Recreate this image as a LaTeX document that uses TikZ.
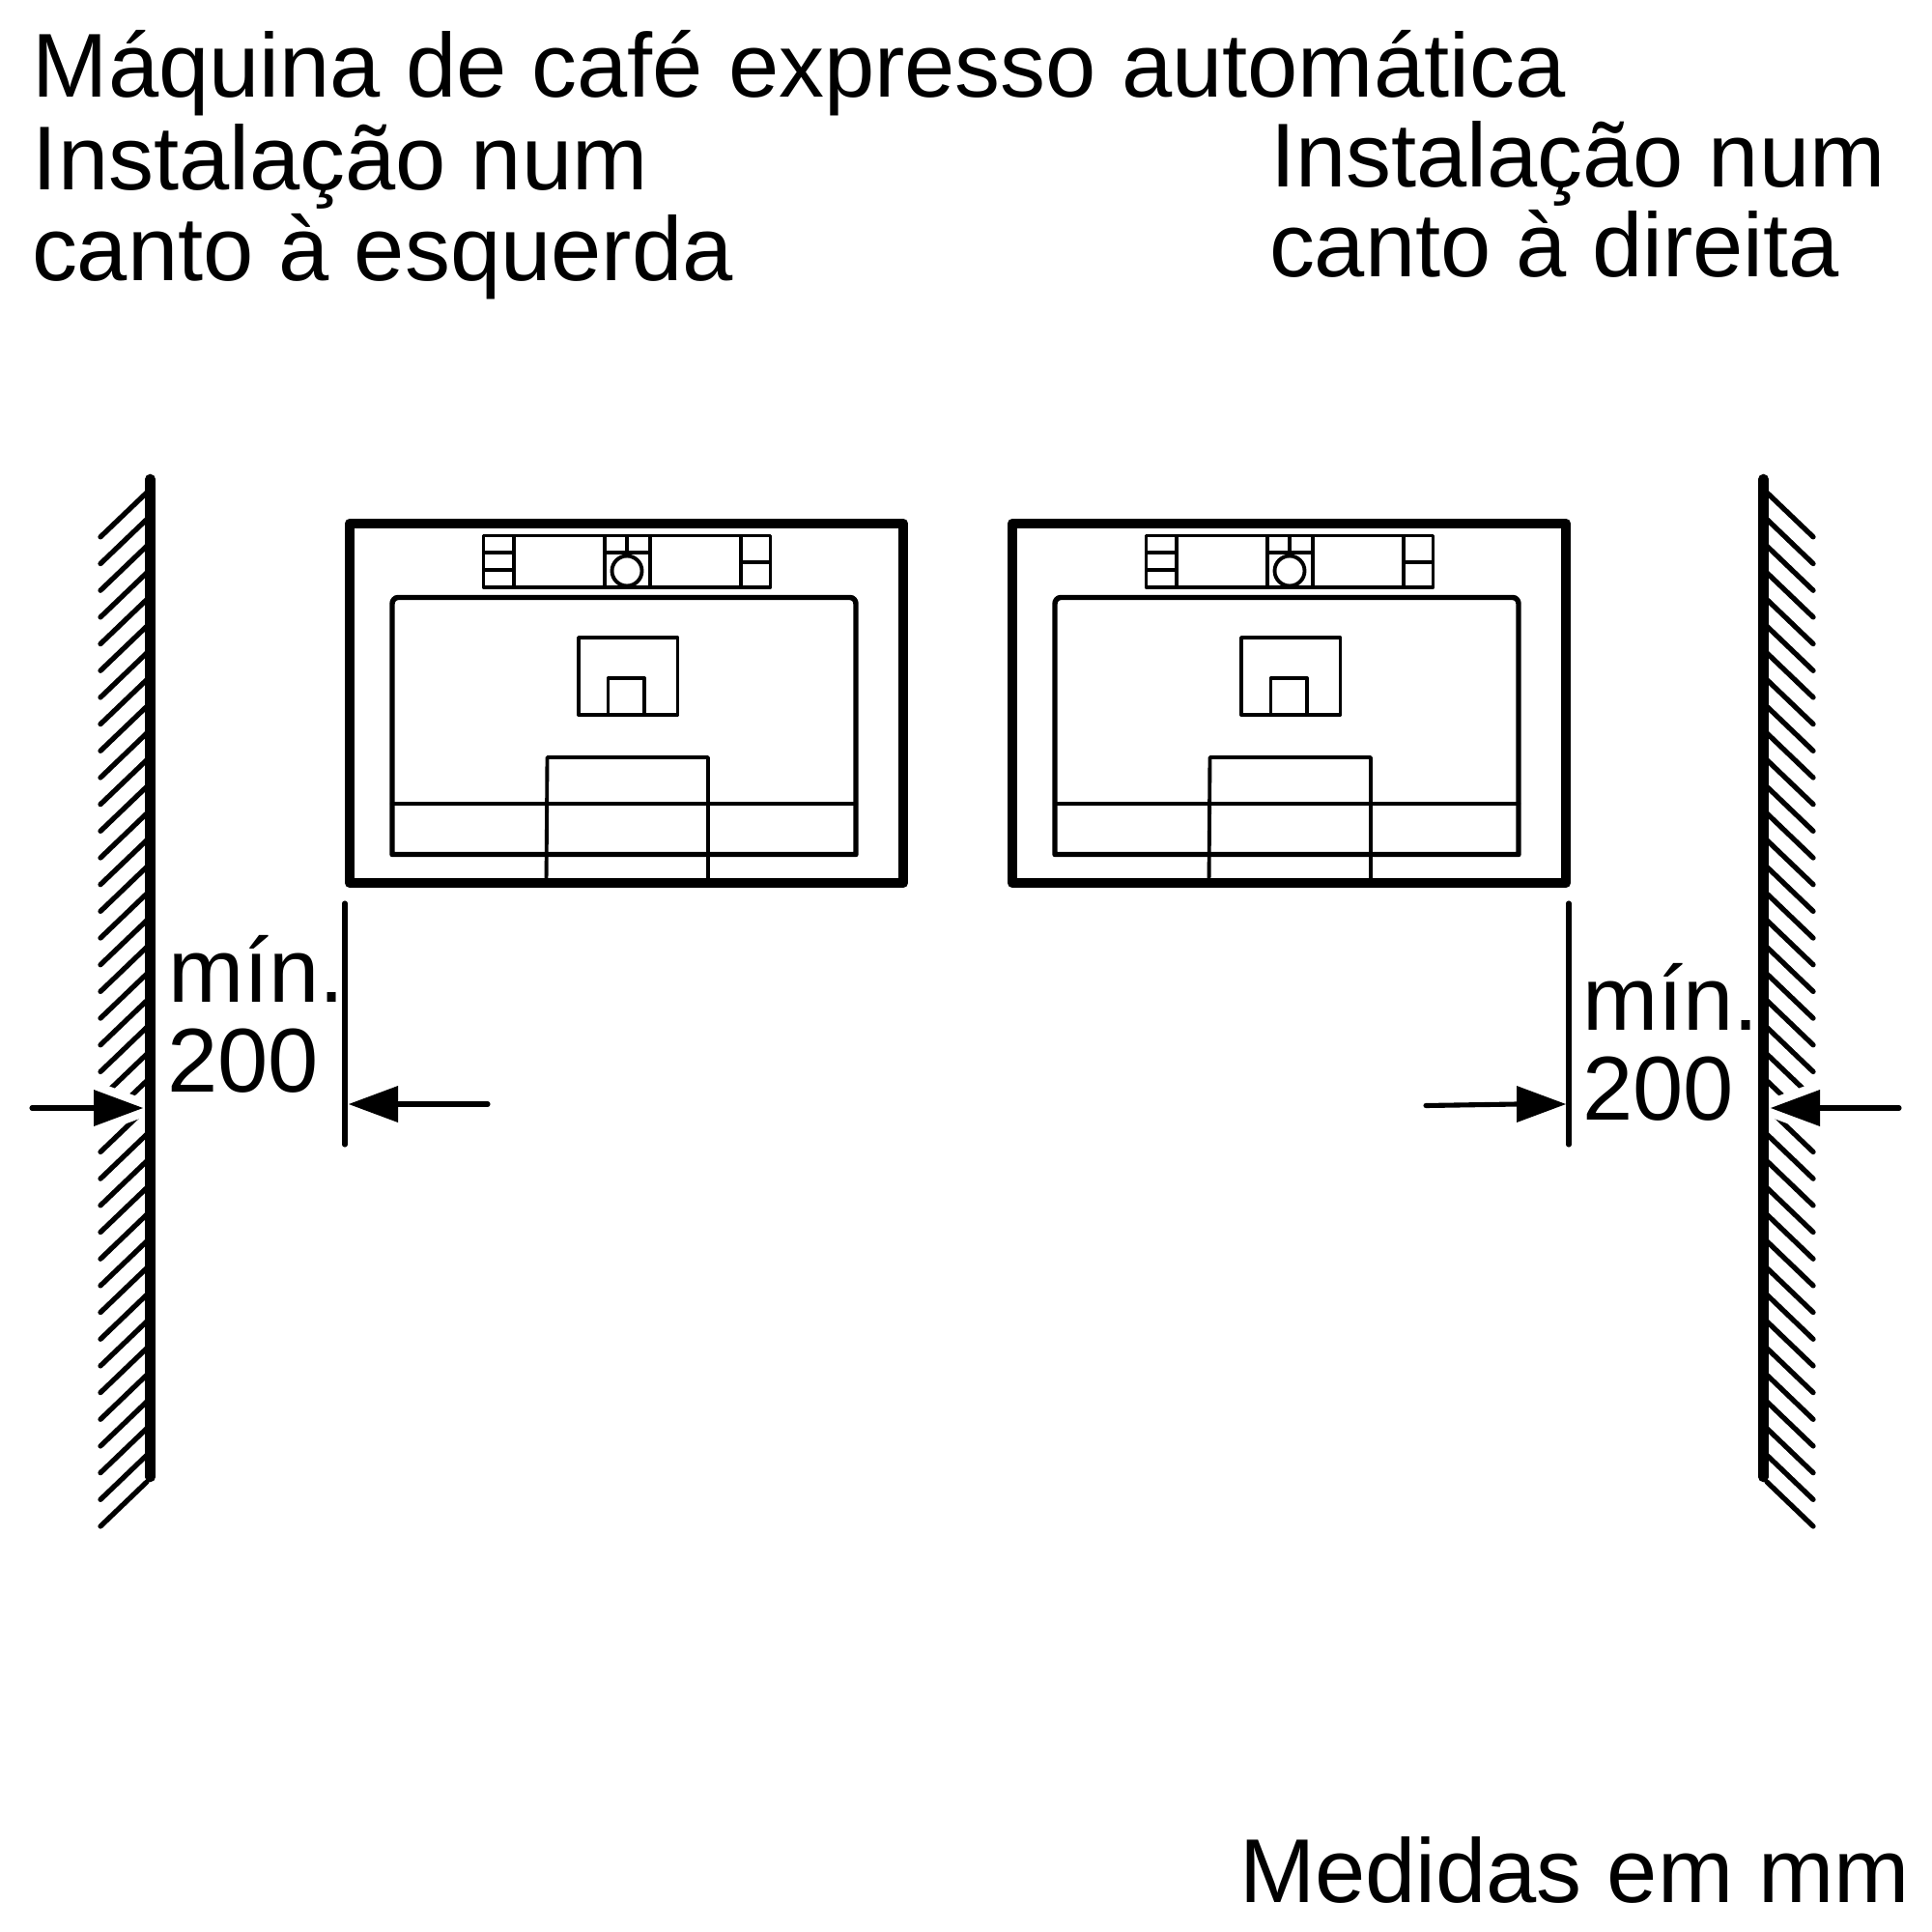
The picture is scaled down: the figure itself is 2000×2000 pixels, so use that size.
\documentclass[tikz,border=0pt]{standalone}
\usepackage{fontspec}
\setmainfont{Liberation Sans}
\tikzset{
  px/.style={x=0.01cm,y=-0.01cm},
  txt/.style={anchor=base west,inner sep=0pt,outer sep=0pt,font=\fontsize{26.7}{32}\selectfont},
  thickwall/.style={line width=3pt,line cap=round,line join=round},
  hatchline/.style={line width=1.5pt,line cap=round},
  outerbox/.style={line width=3pt,line join=round},
  innerbox/.style={line width=1.55pt,line join=round},
  fineline/.style={line width=1.1pt,line join=round},
  midline/.style={line width=1.25pt,line cap=round},
  dimline/.style={line width=1.45pt,line cap=round},
  tipfill/.style={fill=black,draw=none}
}
\begin{document}
\begin{tikzpicture}[px]
\useasboundingbox (0,0) rectangle (2000,2000);
\fill[white] (0,0) rectangle (2000,2000);
% machines
\foreach \dx in {0,686}{
\begin{scope}[shift={(\dx,0)}]
  \draw[outerbox] (362,542) rectangle (935,914);
  \draw[innerbox] (406,884.5) -- (406,625) to[out=90,in=180] (412,618.5) -- (880,618.5) to[out=0,in=90] (886,625) -- (886,884.5) -- cycle;
  \draw[midline] (406,832) -- (886,832);
  \draw[fineline] (565.5,914) -- (566.5,784) -- (733,784) -- (733,914);
  \draw[fineline] (599,660) rectangle (701.5,740);
  \draw[fineline] (629.5,740) -- (629.5,702) -- (667,702) -- (667,740);
  \draw[fineline] (500.5,554.5) rectangle (797.5,608);
  \draw[fineline] (532,554) -- (532,608) (500,572) -- (532,572) (500,590) -- (532,590);
  \draw[fineline] (626,554) -- (626,608) (673,554) -- (673,608) (626,572) -- (673,572) (649,554) -- (649,572);
  \draw[fineline] (649,591) circle [radius=15.5];
  \draw[fineline] (767,554) -- (767,608) (767,582) -- (798,582);
\end{scope}}
% left wall
\foreach \k in {0,...,37}{
  \draw[hatchline] (104,{1580-27.68*\k}) -- (152,{1534-27.68*\k});
}
\fill[white] (90,1116) -- (150,1138) -- (150,1156) -- (90,1178) -- cycle;
\draw[thickwall] (155.5,496) -- (155.5,1529);
\coordinate (la) at (33,1147);
\coordinate (lb) at (97,1147);
\draw[dimline] (la) -- (lb);
\fill[tipfill] (97,1128) -- (148,1147) -- (97,1166) -- cycle;
% right wall
\foreach \k in {0,...,37}{
  \draw[hatchline] (1877,{1580-27.68*\k}) -- (1829,{1534-27.68*\k});
}
\fill[white] (1891,1116) -- (1831,1138) -- (1831,1156) -- (1891,1178) -- cycle;
\draw[thickwall] (1825.5,496) -- (1825.5,1529);
\coordinate (ra) at (1966,1147);
\coordinate (rb) at (1884,1147);
\draw[dimline] (ra) -- (rb);
\fill[tipfill] (1884,1128) -- (1833,1147) -- (1884,1166) -- cycle;
% dimension at left machine
\coordinate (dl1) at (357,935);
\coordinate (dl2) at (357,1185);
\draw[dimline] (dl1) -- (dl2);
\coordinate (da) at (505,1143);
\coordinate (db) at (412,1143);
\draw[dimline] (da) -- (db);
\fill[tipfill] (412,1124) -- (361,1143) -- (412,1162) -- cycle;
% dimension at right machine
\coordinate (dr1) at (1624,935);
\coordinate (dr2) at (1624,1185);
\draw[dimline] (dr1) -- (dr2);
\coordinate (dc) at (1476,1144.5);
\coordinate (dd) at (1570,1143);
\draw[dimline] (dc) -- (dd);
\fill[tipfill] (1570,1124) -- (1621,1143) -- (1570,1162) -- cycle;
% text
\node[txt] (t1) at (34,101) {Máquina de café expresso automática};
\node[txt] (t2) at (34,196) {Instalação num};
\node[txt] (t3) at (33,290) {canto à esquerda};
\node[txt] (t4) at (1315,193) {Instalação num};
\node[txt] (t5) at (1314,287) {canto à direita};
\node[txt] (t6) at (174,1037) {mín.};
\node[txt] (t7) at (173,1130) {200};
\node[txt] (t8) at (1638,1066) {mín.};
\node[txt] (t9) at (1638,1159) {200};
\node[txt] (t10) at (1283,1969) {Medidas em mm};
\end{tikzpicture}
\end{document}
